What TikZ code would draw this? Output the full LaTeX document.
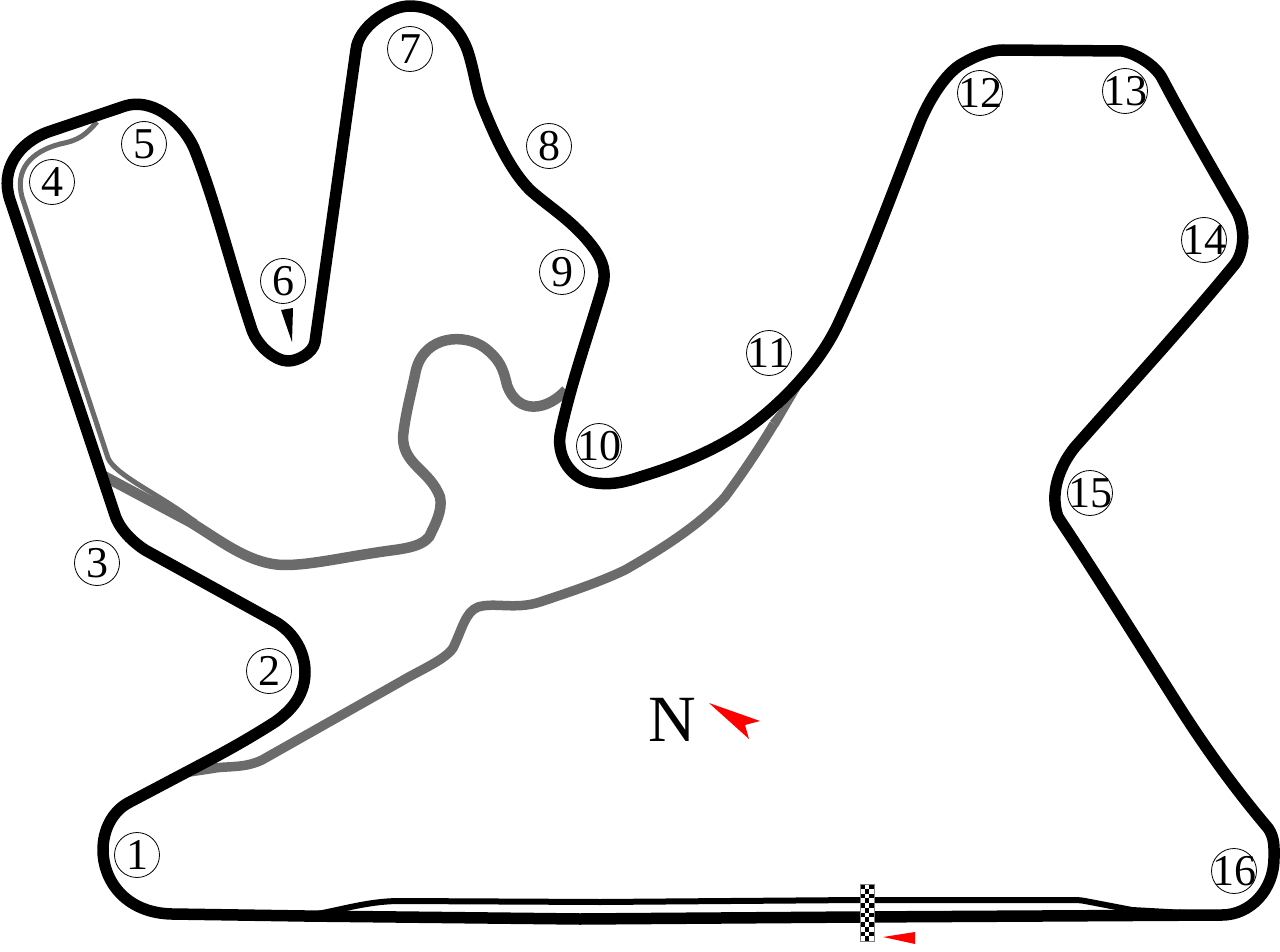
\documentclass[tikz,border=0pt]{standalone}
\usepackage{fontspec}
\setmainfont{Liberation Serif}
\usetikzlibrary{positioning}
\newcommand{\cornerno}[1]{\makebox[0pt]{#1}}
\tikzset{
  track/.style={line width=11.5pt,line join=round},
  pitlane/.style={line width=6pt,line join=round},
  runoff/.style={line width=10.5pt,color=trackgrey,line join=round},
  runoffouter/.style={line width=9.5pt,color=trackgrey,line join=round},
  runoffthin/.style={line width=5pt,color=trackgrey,line join=round},
  corner/.style={draw,circle,line width=0.8pt,minimum size=45pt,inner sep=0pt,font=\fontsize{44}{44}\selectfont}
}
\definecolor{trackgrey}{gray}{0.42}
\begin{document}
\begin{tikzpicture}[x=1pt,y=-1pt]
        \useasboundingbox (0,0) rectangle (1280,952);
        % Draw the grey short circuits
        \draw[runoff] (566,390) .. controls (548,410) and (518,416) .. (507,385)
          .. controls (503,368) and (500,360) .. (485,348)
          .. controls (465,333) and (425,335) .. (416,370)
          .. controls (412,390) and (405,415) .. (403,437)
          .. controls (403,465) and (430,470) .. (440,497)
          .. controls (443,510) and (435,525) .. (429,537)
          .. controls (420,548) and (400,549) .. (380,552)
          .. controls (340,558) and (310,565) .. (285,565)
          .. controls (250,565) and (220,540) .. (190,522) -- (100,474);
        \draw[runoffthin] (97,122) .. controls (85,135) and (80,140) .. (60,144)
          .. controls (30,152) and (15,170) .. (22,197) -- (108,458)
          .. controls (115,475) and (160,495) .. (190,518) -- (196,522);
        \draw[runoffouter] (215,768) .. controls (230,766) and (245,768) .. (262,760) -- (400,682)
          .. controls (420,670) and (445,660) .. (453,648)
          .. controls (462,630) and (465,612) .. (478,607)
          .. controls (495,602) and (515,610) .. (540,602)
          .. controls (570,592) and (600,582) .. (625,570)
          .. controls (660,550) and (700,525) .. (725,497)
          .. controls (745,470) and (760,447) .. (774,424);
        \fill[trackgrey] (188,777) -- (215,763.2) -- (216,772.8) -- cycle;
        \fill[trackgrey] (809,374) -- (770,421) -- (778,427) -- cycle;
        % Draw the pit lane
        \draw[pitlane] (305,916) .. controls (335,912) and (365,901) .. (400,901)
          -- (600,902) -- (860,900) -- (1070,900) .. controls (1076,900) and (1080,900) .. (1085,901) -- (1132,910) -- (1222,915);
        % Draw the circuit
        \draw[track] (1222,915) -- (860,917) -- (580,919) -- (305,916) -- (172,914)
          .. controls (125,913) and (103,880) .. (103,850)
          .. controls (103,830) and (112,812) .. (128,803) -- (200,765)
          .. controls (225,752) and (250,738) .. (275,722)
          .. controls (295,708) and (305,692) .. (305,672)
          .. controls (305,650) and (292,630) .. (272,620) -- (145,550)
          .. controls (130,540) and (118,527) .. (114,512) -- (10,200)
          .. controls (0,170) and (18,143) .. (48,132) -- (125,106)
          .. controls (150,98) and (180,118) .. (194,148)
          .. controls (215,200) and (232,270) .. (252,330)
          .. controls (258,347) and (276,361) .. (288,361)
          .. controls (298,361) and (313,353) .. (315,342) -- (356,50)
          .. controls (358,28) and (388,6) .. (410,6)
          .. controls (440,6) and (462,30) .. (469,55)
          .. controls (475,75) and (476,90) .. (483,107)
          .. controls (495,137) and (510,170) .. (530,190)
          .. controls (550,208) and (575,222) .. (595,250)
          .. controls (603,262) and (606,272) .. (603,285)
          .. controls (590,330) and (572,380) .. (561,430)
          .. controls (555,455) and (570,477) .. (590,482)
          .. controls (610,486) and (625,482) .. (640,477)
          .. controls (680,465) and (715,450) .. (745,430)
          .. controls (780,405) and (820,365) .. (840,320)
          .. controls (870,255) and (895,185) .. (920,122)
          .. controls (930,98) and (945,75) .. (960,65)
          .. controls (975,56) and (990,50) .. (1003,50) -- (1122,51)
          .. controls (1135,53) and (1155,65) .. (1162,78)
          .. controls (1185,122) and (1212,168) .. (1237,212)
          .. controls (1245,228) and (1245,250) .. (1235,264)
          .. controls (1185,325) and (1130,385) .. (1075,447)
          .. controls (1058,468) and (1050,495) .. (1058,517)
          .. controls (1100,580) and (1140,645) .. (1180,708)
          .. controls (1210,755) and (1240,795) .. (1268,828)
          .. controls (1275,838) and (1274,848) .. (1274,858)
          .. controls (1274,890) and (1250,915) .. (1222,915) -- cycle;
        % Start and finish line
        \fill[white] (860,884) rectangle (874,941);
        \foreach \row in {0,...,11} {
          \foreach \col in {0,1,2} {
            \pgfmathtruncatemacro{\odd}{mod(\row+\col,2)}
            \ifnum\odd=0
              \fill[black] (860+\col*4.67,884+\row*4.75) rectangle ++(4.67,4.75);
            \fi
          }
        }
        \draw[line width=1pt,color=gray] (860,884) rectangle (874,941);
        % Arrows
        \fill[red] (883,937) -- (915,932) -- (915,944) -- cycle;
        \fill[red] (709,703) -- (760,721) -- (745,725) -- (749,739) -- cycle;
        \fill[black] (281,310) -- (293,308) -- (292,342) -- cycle;
        \node (north) at (672,720) {\fontsize{66}{66}\selectfont N};
        % Corner numbers
        \node[corner] (c1) at (137,855) {\cornerno{1}};
        \node[corner] (c2) at (269,671) {\cornerno{2}};
        \node[corner] (c3) at (97,563) {\cornerno{3}};
        \node[corner] (c4) at (52,182) {\cornerno{4}};
        \node[corner] (c5) at (144,144) {\cornerno{5}};
        \node[corner] (c6) at (283,281) {\cornerno{6}};
        \node[corner] (c7) at (410,49) {\cornerno{7}};
        \node[corner] (c8) at (549,146) {\cornerno{8}};
        \node[corner] (c9) at (562,272) {\cornerno{9}};
        \node[corner] (c10) at (599,446) {\cornerno{10}};
        \node[corner] (c11) at (769,353) {\cornerno{11}};
        \node[corner] (c12) at (980,93) {\cornerno{12}};
        \node[corner] (c13) at (1125,91) {\cornerno{13}};
        \node[corner] (c14) at (1204,240) {\cornerno{14}};
        \node[corner] (c15) at (1090,493) {\cornerno{15}};
        \node[corner] (c16) at (1234,871) {\cornerno{16}};
      \end{tikzpicture}
\end{document}
